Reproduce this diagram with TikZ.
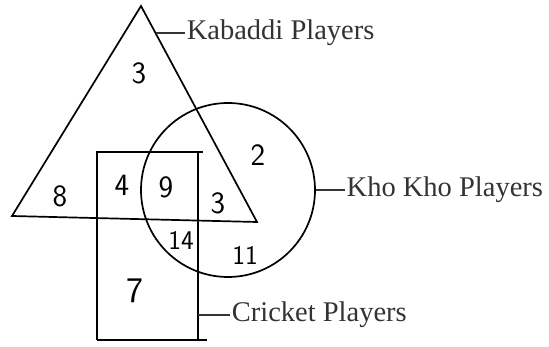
\documentclass[tikz,border=0pt]{standalone}
\usepackage{fontspec}
\setmainfont{Liberation Serif}
\usetikzlibrary{positioning}

\begin{document}
\begin{tikzpicture}[x=1pt,y=-1pt,line width=1.7pt,
  num/.style={font=\sffamily\fontsize{31}{31}\selectfont,inner sep=0pt},
  numsmall/.style={font=\sffamily\fontsize{27}{27}\selectfont,inner sep=0pt},
  lbl/.style={font=\fontsize{28.5}{28.5}\selectfont,text=black!80,inner sep=1pt}]
\useasboundingbox (0,0) rectangle (549,347);
% Kabaddi players
\draw (141,6) -- (12,216) -- (257,222) -- cycle;
\coordinate (kab) at (156,33);
% Kho Kho players
\node[draw,circle,minimum size=174pt,inner sep=0pt] (kho) at (228,190) {};
% Cricket players
\draw (97,340) -- (97,152) -- (203,152);
\draw (198,152) -- (198,340);
\draw (97,340) -- (207,340);
\coordinate (cri) at (198,315);
% labels
\node[lbl,right=29pt of kab,anchor=west] (kabL) {Kabaddi Players};
\node[lbl,right=29pt of kho.east,anchor=west] (khoL) {Kho Kho Players};
\node[lbl,right=32pt of cri,anchor=west] (criL) {Cricket Players};
\draw[black!80] (kab) -- (kabL.west);
\draw[black!80] (kho.east) -- (khoL.west);
\draw[black!80] (cri) -- (criL.west);
% numbers
\node[num] (n3a) at (139,73) {3};
\node[num] (n8) at (60,196) {8};
\node[num] (n4) at (122,185) {4};
\node[num] (n9) at (166,187) {9};
\node[num] (n3b) at (218,203) {3};
\node[num] (n2) at (258,155) {2};
\node[numsmall] (n14) at (181,240) {14};
\node[numsmall] (n11) at (245,255) {11};
\node[num,font=\sffamily\fontsize{36}{36}\selectfont] (n7) at (135,291) {7};
\end{tikzpicture}
\end{document}
